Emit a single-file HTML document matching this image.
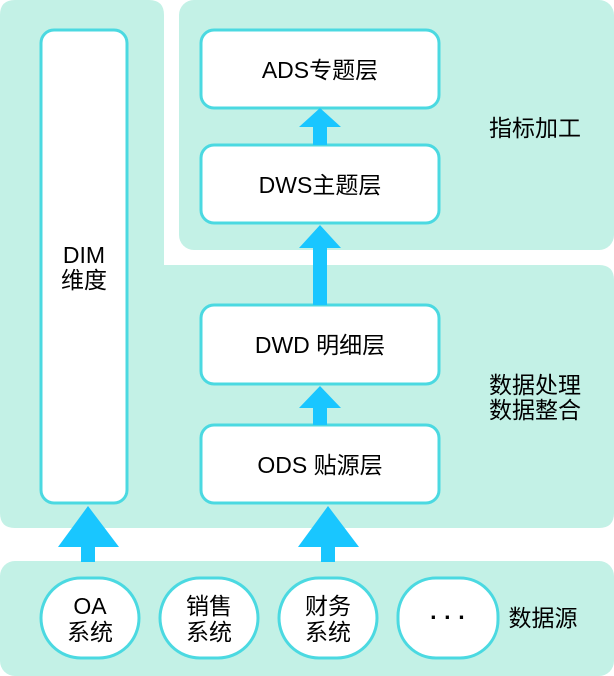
<!DOCTYPE html>
<html><head><meta charset="utf-8"><style>
html,body{margin:0;padding:0;background:#fff;}
svg{display:block;}
text{font-family:"Liberation Sans","Noto Sans CJK SC",sans-serif;fill:#000;}
</style></head><body>
<svg width="614" height="676" viewBox="0 0 614 676" xmlns="http://www.w3.org/2000/svg">
<g fill="#c3f1e6">
<path d="M15 0 H149 Q164 0 164 15 V265 H599 Q614 265 614 280 V513 Q614 528 599 528 H15 Q0 528 0 513 V15 Q0 0 15 0 Z"/>
<rect x="179" y="0" width="435" height="250" rx="15"/>
<rect x="0" y="561" width="614" height="115" rx="15"/>
</g>
<g fill="#fff" stroke="#4bd9e1" stroke-width="3">
<rect x="41" y="30" width="86" height="473" rx="13"/>
<rect x="201" y="30" width="238" height="78" rx="13"/>
<rect x="201" y="145" width="238" height="78" rx="13"/>
<rect x="201" y="305" width="238" height="79" rx="13"/>
<rect x="201" y="425" width="238" height="78" rx="13"/>
<rect x="41" y="578" width="98" height="80" rx="40"/>
<rect x="160" y="578" width="98" height="80" rx="40"/>
<rect x="279" y="578" width="98" height="80" rx="40"/>
<rect x="398" y="578" width="100" height="80" rx="38"/>
</g>
<g fill="#19c6ff">
<polygon points="320,108 341,127 327,127 327,145 313,145 313,127 299,127"/>
<polygon points="320,225 341,248 327,248 327,305 313,305 313,248 299,248"/>
<polygon points="320,386 341,408 327,408 327,425 313,425 313,408 299,408"/>
<polygon points="88,506 119,547 95,547 95,562 81,562 81,547 58,547"/>
<polygon points="328,506 359,547 335,547 335,562 321,562 321,547 298,547"/>
</g>
<g font-size="23" text-anchor="middle">
<text x="84" y="263">DIM</text>
<text x="84" y="288">维度</text>
<text x="320" y="78">ADS专题层</text>
<text x="320" y="193">DWS主题层</text>
<text x="320" y="353">DWD 明细层</text>
<text x="320" y="473">ODS 贴源层</text>
<text x="90" y="614">OA</text>
<text x="90" y="640">系统</text>
<text x="209" y="614">销售</text>
<text x="209" y="640">系统</text>
<text x="328" y="614">财务</text>
<text x="328" y="640">系统</text>
<text x="448" y="625" font-weight="bold">· · ·</text>
<text x="535" y="136">指标加工</text>
<text x="535" y="393">数据处理</text>
<text x="535" y="418">数据整合</text>
<text x="543" y="626">数据源</text>
</g>
</svg>
</body></html>
